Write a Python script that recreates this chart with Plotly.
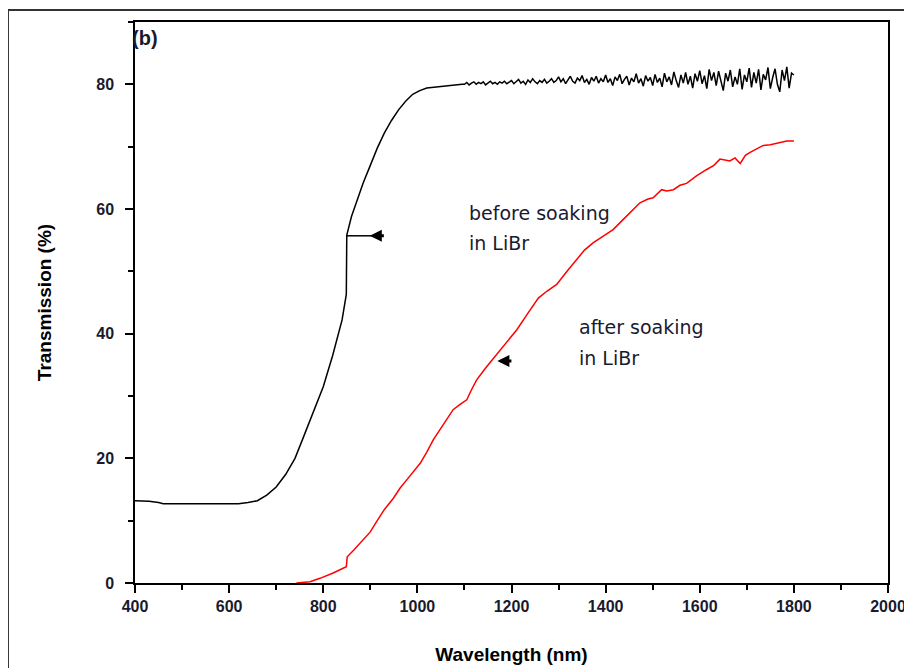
import plotly.graph_objects as go

# before soaking: rising edge (hand-read)
before_wl_edge = [400, 430, 450, 460, 500, 550, 580, 600, 620, 640, 660, 680, 700, 720, 740, 760,
                  780, 800, 820, 840, 849, 850, 860, 870, 885, 900, 915, 930, 945, 960, 975, 990,
                  1005, 1020, 1040, 1060, 1080, 1095]
before_T_edge = [13.2, 13.1, 12.9, 12.7, 12.7, 12.7, 12.6, 12.7, 12.7, 12.9, 13.2, 14.1, 15.4, 17.4, 20.0, 23.8,
                 27.6, 31.5, 36.5, 42.2, 46.3, 55.8, 58.8, 61.0, 64.2, 67.0, 69.8, 72.2, 74.2, 75.9, 77.3, 78.4,
                 79.0, 79.4, 79.6, 79.8, 79.9, 80.0]

# before soaking: noisy plateau, 1100-1800 nm every 5 nm
before_wl_flat = list(range(1100, 1805, 5))
before_T_flat = [
    80.0, 80.3, 79.9, 80.2, 80.4, 80.0, 80.3, 80.1, 80.4, 79.9, 80.2, 80.5, 80.1, 80.3, 80.0, 80.4, 80.2, 80.5, 80.1, 80.3,
    80.6, 80.1, 80.4, 80.8, 80.2, 80.5, 80.0, 80.7, 80.3, 80.9, 80.4, 80.1, 80.6, 80.3, 80.8, 80.2, 80.5, 80.9, 80.3, 80.6,
    81.2, 80.4, 80.9, 80.1, 80.7, 81.3, 80.5, 80.2, 81.0, 80.6, 81.4, 80.3, 80.8, 80.0, 81.1, 80.5, 81.3, 80.2, 80.9, 80.4,
    81.5, 80.3, 80.9, 79.8, 81.2, 80.6, 81.6, 80.1, 80.8, 81.3, 79.9, 81.0, 80.4, 81.7, 80.2, 80.9, 79.7, 81.4, 80.5, 81.1,
    79.8, 81.6, 80.3, 81.0, 79.6, 81.8, 80.4, 81.2, 79.9, 82.0, 80.6, 79.5, 81.5, 80.2, 81.9, 80.0, 81.3, 79.4, 81.7, 80.5,
    82.2, 80.1, 81.4, 79.3, 82.4, 80.6, 81.9, 79.8, 82.1, 80.3, 79.0, 81.8, 80.5, 82.3, 79.6, 81.2, 80.0, 82.5, 79.2, 81.5,
    80.4, 82.6, 79.5, 81.9, 80.2, 82.4, 79.1, 81.6, 80.7, 82.7, 79.3, 81.1, 82.5, 80.0, 78.8, 82.3, 80.6, 82.8, 79.4, 81.8,
    81.5,
]

# after soaking in LiBr
after_wl = [743, 772, 793, 821, 849, 851, 865, 885, 900, 913, 930, 949, 963, 977, 992, 1006, 1020, 1034,
            1048, 1062, 1076, 1090, 1105, 1115, 1126, 1145, 1162, 1185, 1211, 1235, 1257, 1275, 1296, 1318,
            1338, 1355, 1374, 1395, 1416, 1437, 1459, 1473, 1490, 1501, 1519, 1530, 1544, 1558, 1572, 1593,
            1614, 1630, 1643, 1655, 1664, 1675, 1686, 1697, 1707, 1720, 1735, 1750, 1771, 1785, 1800]
after_T = [0.0, 0.2, 0.75, 1.6, 2.6, 4.2, 5.3, 6.9, 8.2, 9.8, 11.8, 13.6, 15.2, 16.5, 17.9, 19.2, 21.0, 23.0,
           24.6, 26.3, 27.8, 28.6, 29.4, 31.0, 32.6, 34.5, 36.1, 38.3, 40.6, 43.3, 45.7, 46.8, 47.9, 50.0,
           51.9, 53.4, 54.6, 55.6, 56.7, 58.3, 59.9, 61.0, 61.6, 61.8, 63.1, 62.9, 63.1, 63.8, 64.1, 65.3,
           66.3, 67.0, 68.0, 67.8, 67.7, 68.2, 67.3, 68.6, 69.1, 69.6, 70.2, 70.3, 70.7, 70.9, 70.9]

x_ticks = [400, 600, 800, 1000, 1200, 1400, 1600, 1800, 2000]
y_ticks = [0, 20, 40, 60, 80]

fig = go.Figure()
fig.add_trace(go.Scatter(x=before_wl_edge + before_wl_flat, y=before_T_edge + before_T_flat,
                         mode="lines", line=dict(color="black", width=1.5), showlegend=False))
fig.add_trace(go.Scatter(x=after_wl, y=after_T, mode="lines",
                         line=dict(color="#ff0000", width=1.5), showlegend=False))

# pointer arrows
fig.add_shape(type="line", x0=850, x1=910, y0=55.7, y1=55.7, xref="x", yref="y",
              line=dict(color="black", width=1.5))
fig.add_annotation(x=899, y=55.7, ax=932, ay=55.7, xref="x", yref="y", axref="x", ayref="y",
                   showarrow=True, arrowhead=2, arrowsize=0.8, arrowwidth=3, arrowcolor="black", text="")
fig.add_annotation(x=1170, y=35.6, ax=1203, ay=35.6, xref="x", yref="y", axref="x", ayref="y",
                   showarrow=True, arrowhead=2, arrowsize=0.8, arrowwidth=3, arrowcolor="black", text="")

lab_font = dict(family="DejaVu Sans", size=19, color="#1a1a2e")
for txt, xx, yy in [("before soaking", 1105, 59.4), ("in LiBr", 1105, 54.6),
                    ("after soaking", 1339, 41.1), ("in LiBr", 1339, 36.1)]:
    fig.add_annotation(x=xx, y=yy, xref="x", yref="y", text=txt, showarrow=False,
                       xanchor="left", yanchor="middle", font=lab_font)

fig.add_annotation(x=-0.006, y=87.4, xref="paper", yref="y", text="<b>(b)</b>", showarrow=False,
                   xanchor="left", yanchor="middle",
                   font=dict(family="Liberation Sans", size=20, color="#1a1a2e"))

# outer frame around the figure
fig.add_shape(type="rect", xref="paper", yref="paper", x0=-0.1687, x1=1.05, y0=-0.2, y1=1.0214,
              line=dict(color="#333333", width=2), layer="below")

axis_font = dict(family="Liberation Sans", size=16, color="#1a1a2e", weight="bold")
fig.update_xaxes(range=[400, 2000], tickvals=x_ticks, ticks="outside", ticklen=8, tickwidth=1.5,
                 tickcolor="black", showline=True, linecolor="black", linewidth=1.5, mirror=True,
                 showgrid=False, zeroline=False, tickfont=axis_font, automargin=False,
                 minor=dict(dtick=100, tick0=400, ticks="outside", ticklen=5, tickwidth=1.5, tickcolor="black"),
                 title=dict(text="<b>Wavelength (nm)</b>", font=dict(family="Liberation Sans", size=19, color="black"),
                            standoff=34))
fig.update_yaxes(range=[0, 90], tickvals=y_ticks, ticks="outside", ticklen=8, tickwidth=1.5,
                 tickcolor="black", showline=True, linecolor="black", linewidth=1.5, mirror=True,
                 showgrid=False, zeroline=False, tickfont=axis_font, automargin=False, ticklabelstandoff=8,
                 minor=dict(dtick=10, tick0=0, ticks="outside", ticklen=5, tickwidth=1.5, tickcolor="black"),
                 title=dict(text="<b>Transmission (%)</b>", font=dict(family="Liberation Sans", size=19, color="black"),
                            standoff=40))

# page has an 8px body margin, so the plot box is shifted up/left by that much
fig.update_layout(width=912, height=668, margin=dict(l=127, r=32, t=14, b=93),
                  plot_bgcolor="white", paper_bgcolor="white", showlegend=False)

fig.write_html("out.html")
